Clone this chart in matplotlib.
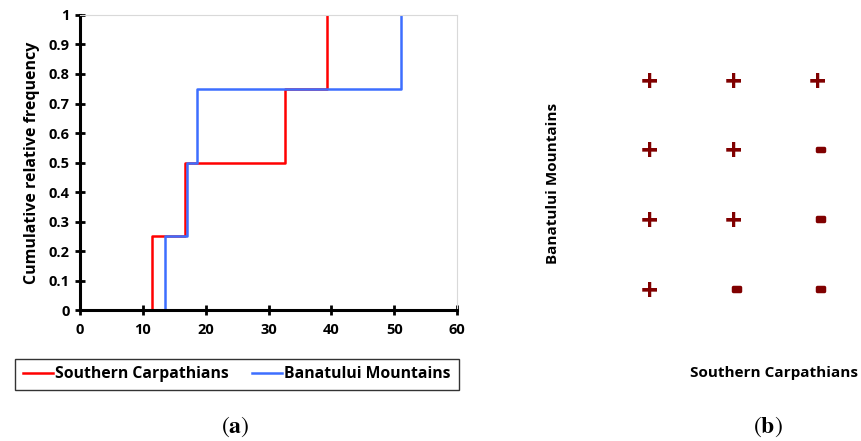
import numpy as np
import matplotlib
matplotlib.use("Agg")
import matplotlib.pyplot as plt
import matplotlib.patheffects as pe

plt.rcParams['font.family'] = ['Open Sans', 'DejaVu Sans']
plt.rcParams['mathtext.fontset'] = 'stix'

# ---------------- data
# panel (a): empirical cumulative distributions
south_x = [11.5, 11.5, 16.7, 32.7, 39.3]
south_y = [0.0, 0.25, 0.5, 0.75, 1.0]
banat_x = [13.5, 13.5, 17.0, 18.6, 51.1]
banat_y = [0.0, 0.25, 0.5, 0.75, 1.0]

x_ticks = [0, 10, 20, 30, 40, 50, 60]
y_ticks = [0, 0.1, 0.2, 0.3, 0.4, 0.5, 0.6, 0.7, 0.8, 0.9, 1]
y_tick_labels = ["0", "0.1", "0.2", "0.3", "0.4", "0.5", "0.6", "0.7", "0.8", "0.9", "1"]

# panel (b): sign matrix, rows top -> bottom, columns left -> right
sign_rows = [4, 3, 2, 1]
sign_cols = [1, 2, 3]
signs = [["+", "+", "+"],
         ["+", "+", "-"],
         ["+", "+", "-"],
         ["+", "-", "-"]]

red = "#FF0000"
blue = "#3D6EFF"
dark_red = "#800000"

fig = plt.figure(figsize=(8.61, 4.41), dpi=100)

########################### PANEL A
ax = fig.add_axes([0.0929, 0.297, 0.4379, 0.669])
ax.step(south_x, south_y, where="post", color=red, lw=1.8, label="Southern Carpathians")
ax.step(banat_x, banat_y, where="post", color=blue, lw=1.8, label="Banatului Mountains")
ax.set_xlim(0, 60)
ax.set_ylim(0, 1)
ax.set_xticks(x_ticks)
ax.set_yticks(y_ticks)
ax.set_yticklabels(y_tick_labels)
for lab in ax.get_xticklabels() + ax.get_yticklabels():
    lab.set_fontweight("bold")
    lab.set_fontsize(10.5)
ax.tick_params(direction="inout", length=7, width=2)
ax.tick_params(axis="x", pad=6)
ax.tick_params(axis="y", pad=4)
ax.spines["left"].set_linewidth(2.2)
ax.spines["bottom"].set_linewidth(2.2)
for s in ["top", "right"]:
    ax.spines[s].set_color("#d9d9d9")
    ax.spines[s].set_linewidth(0.8)
ax.set_ylabel("Cumulative relative frequency", fontweight="bold", fontsize=11.5, labelpad=6)

leg = fig.legend(loc="center", bbox_to_anchor=(0.275, 0.151), ncol=2, frameon=True,
                 fancybox=False, edgecolor="black", handlelength=1.9, handletextpad=0.15,
                 columnspacing=1.5, prop={"weight": "bold", "size": 11.3}, borderpad=0.5)
leg.get_frame().set_linewidth(1.0)

fig.text(0.273, 0.032, r"$(\mathbf{a})$", ha="center", va="center", fontsize=17)

########################### PANEL B
ax2 = fig.add_axes([0.705, 0.2653, 0.2927, 0.6327])
ax2.set_xlim(0.5, 3.5)
ax2.set_ylim(0.5, 4.5)
ax2.axis("off")
for r, row in zip(sign_rows, signs):
    for c, s in zip(sign_cols, row):
        if s == "+":
            ax2.text(c, r - 0.04, s, ha="center", va="center", color=dark_red,
                     fontsize=22, fontweight="bold")
        else:
            ax2.text(c + 0.04, r, s, ha="center", va="center", color=dark_red,
                     fontsize=21, fontweight="bold",
                     path_effects=[pe.withStroke(linewidth=2.5, foreground=dark_red)])

fig.text(0.899, 0.154, "Southern Carpathians", ha="center", va="center",
         fontweight="bold", fontsize=11)
fig.text(0.642, 0.585, "Banatului Mountains", ha="center", va="center",
         rotation=90, fontweight="bold", fontsize=11)

fig.text(0.892, 0.032, r"$(\mathbf{b})$", ha="center", va="center", fontsize=17)

fig.savefig("out.png", dpi=100)
